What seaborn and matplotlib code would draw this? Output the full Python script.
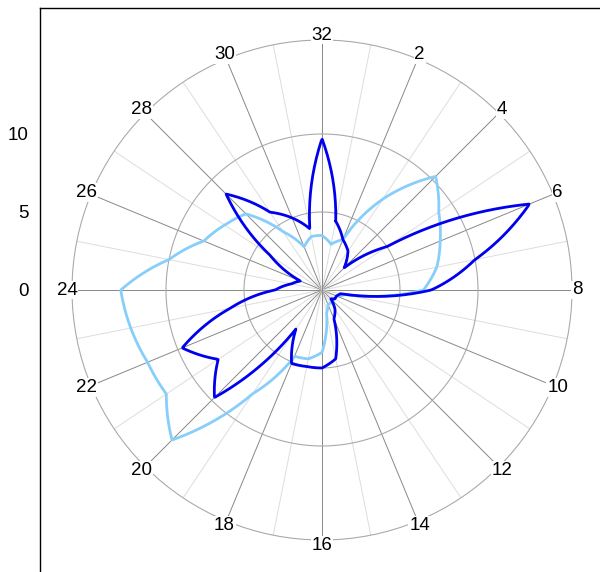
import numpy as np
import pandas as pd
import matplotlib.pyplot as plt
import seaborn as sns

# Directions 1..32 (32 at top, clockwise)
directions = list(range(1, 33))
dark_values = [4.5, 3.5, 3, 2, 5, 14.4, 10, 7, 1.2, 1, 1, 0.8, 1.5, 2, 4.5, 5,
               5, 5.1, 3, 9.75, 8, 9.7, 6, 3, 2, 1.5, 4, 8.7, 6, 5, 4, 9.7]
light_values = [3, 3.5, 7, 10.3, 9, 8.2, 7.5, 6.5, 1.5, 1, 1, 1, 1, 1, 1.5, 4,
                4.5, 4.6, 8, 13.6, 12, 12.1, 12.5, 12.9, 10, 8.2, 7.5, 6.9, 4.5, 3, 3.5, 3.5]
tick_labels = [str(d) for d in range(2, 33, 2)]

sns.set_style("white")
plt.rcParams['font.family'] = ['Liberation Sans', 'DejaVu Sans']

fig = plt.figure(figsize=(6, 5.72), dpi=100)

# Cartesian frame holding the left radial scale
W, H = 600, 572
frame = fig.add_axes([40 / W, 0, 560 / W, 564 / H])
lim = 282 / 15.6
frame.set_ylim(-lim, lim)
frame.set_xlim(0, 1)
frame.set_xticks([])
frame.set_yticks([0, 5, 10])
frame.tick_params(axis='y', labelsize=13.5, length=0, pad=8, labelcolor='black')
for s in ['right', 'bottom']:
    frame.spines[s].set_visible(False)
for s in ['left', 'top']:
    frame.spines[s].set_color('black')
    frame.spines[s].set_linewidth(1)
frame.patch.set_alpha(0)

rmax = 250 / 15.6
ax = fig.add_axes([72 / W, 32 / H, 500 / W, 500 / H], projection='polar')
ax.patch.set_alpha(0)
ax.set_theta_zero_location('N')
ax.set_theta_direction(-1)
ax.set_ylim(0, rmax)
ax.grid(False)
ax.set_yticks([])
ax.set_xticks([])
ax.spines['polar'].set_color('#aaaaaa')
ax.spines['polar'].set_linewidth(0.8)

step = 2 * np.pi / 32
for d in directions:
    ax.plot([d * step, d * step], [0, rmax], color='#888888' if d % 2 == 0 else '#dddddd',
            lw=0.7, zorder=1)
circ = np.linspace(0, 2 * np.pi, 361)
for r in [5, 10]:
    ax.plot(circ, np.full_like(circ, r), color='#aaaaaa', lw=0.8, zorder=1)

for d, lab in zip(range(2, 33, 2), tick_labels):
    ax.text(d * step, 255 / 15.6, lab, ha='center', va='center', fontsize=13.5,
            color='black', zorder=6, clip_on=False,
            bbox=dict(facecolor='white', edgecolor='none', pad=0.5))

def series(vals):
    # linear in r along theta -> curved petals
    th = np.array([d * step for d in directions] + [33 * step])
    rr = np.array(list(vals) + [vals[0]])
    fine = np.linspace(th[0], th[-1], 1000)
    return pd.DataFrame({'theta': fine, 'r': np.interp(fine, th, rr)})

sns.lineplot(data=series(light_values), x='theta', y='r', sort=False, estimator=None,
             ax=ax, color='#87cefa', lw=2, zorder=3)
sns.lineplot(data=series(dark_values), x='theta', y='r', sort=False, estimator=None,
             ax=ax, color='#0000ee', lw=2, zorder=4)
ax.set_xlabel('')
ax.set_ylabel('')
ax.set_ylim(0, rmax)

fig.savefig('out.png', dpi=100)
